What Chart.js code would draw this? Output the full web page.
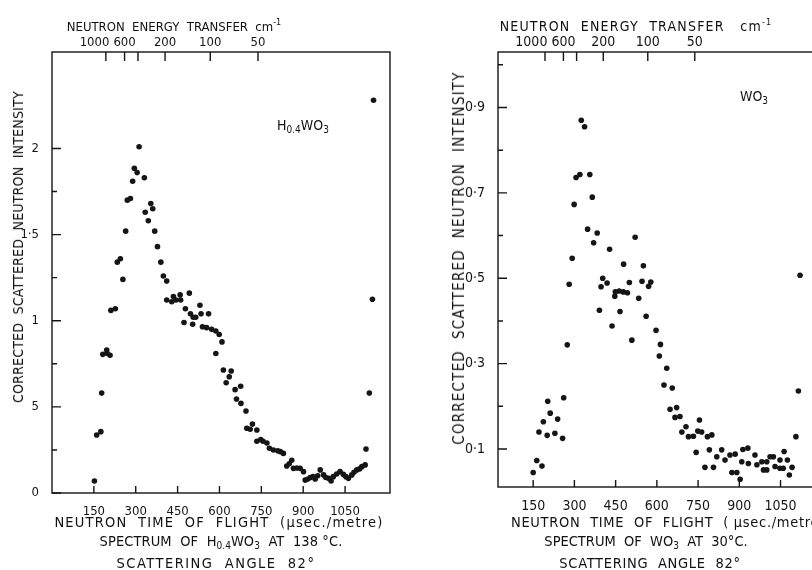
<!DOCTYPE html>
<html>
<head>
<meta charset="utf-8">
<script src="https://cdn.jsdelivr.net/npm/chart.js@4"></script>
<style>
body { margin:0; width:812px; height:570px; overflow:hidden; background:#fff; position:relative;
  font-family:'DejaVu Sans Condensed','Liberation Sans Narrow',sans-serif; color:#111; }
canvas { position:absolute; top:0; }
#left { left:0; }
#right { left:420px; }
.txt { position:absolute; white-space:nowrap; font-size:13px; transform:translate(-50%,-50%); }
.cap { font-size:14.5px; letter-spacing:0.7px; }
.ytitle { transform:translate(-50%,-50%) rotate(-90deg); font-size:14px; letter-spacing:0.2px; }
.wide { letter-spacing:1.2px; }
sub { font-size:10px; vertical-align:-3px; letter-spacing:0; }
sup { font-size:9px; vertical-align:6px; }
</style>
</head>
<body>
<canvas id="left" width="400" height="570"></canvas>
<canvas id="right" width="420" height="570"></canvas>

<div class="txt" style="left:174px;top:25px">NEUTRON&nbsp; ENERGY&nbsp; TRANSFER&nbsp; cm<sup>-1</sup></div>
<div class="txt ytitle" style="left:18px;top:247px">CORRECTED&nbsp; SCATTERED&nbsp; NEUTRON&nbsp; INTENSITY</div>
<div class="txt" style="left:303px;top:126px;font-size:14px">H<sub>0.4</sub>WO<sub>3</sub></div>
<div class="txt cap" style="left:219px;top:522px;letter-spacing:1.2px">NEUTRON&nbsp; TIME&nbsp; OF&nbsp; FLIGHT&nbsp; (µsec./metre)</div>
<div class="txt cap" style="left:221px;top:542px;letter-spacing:0.1px">SPECTRUM&nbsp; OF&nbsp; H<sub>0.4</sub>WO<sub>3</sub>&nbsp; AT&nbsp; 138 °C.</div>
<div class="txt cap" style="left:216px;top:563px;letter-spacing:1.5px">SCATTERING&nbsp; ANGLE&nbsp; 82°</div>

<div class="txt wide" style="left:636px;top:25px;font-size:14px">NEUTRON&nbsp; ENERGY&nbsp; TRANSFER&nbsp;&nbsp; cm<sup>-1</sup></div>
<div class="txt ytitle" style="left:459px;top:258px;font-size:15px;letter-spacing:1.2px">CORRECTED&nbsp; SCATTERED&nbsp; NEUTRON&nbsp; INTENSITY</div>
<div class="txt" style="left:754px;top:97px;font-size:14px">WO<sub>3</sub></div>
<div class="txt cap" style="left:668px;top:522px">NEUTRON&nbsp; TIME&nbsp; OF&nbsp; FLIGHT&nbsp; ( µsec./metre)</div>
<div class="txt cap" style="left:646px;top:542px;letter-spacing:0">SPECTRUM&nbsp; OF&nbsp; WO<sub>3</sub>&nbsp; AT&nbsp; 30°C.</div>
<div class="txt cap" style="left:650px;top:563px">SCATTERING&nbsp; ANGLE&nbsp; 82°</div>

<script>
// time of flight ticks (usec/metre) and the energy transfer scale on top
const tofTicks = [150, 300, 450, 600, 750, 900, 1050];
const energyLabels = ['1000', '600', '', '200', '100', '50'];
const energyTof = [193, 260, 308, 405, 567, 738];

// H0.4WO3 at 138 C
const leftTof = [152, 160, 175, 178, 182, 196, 198, 208, 211, 227, 234, 245, 254, 264, 270, 281, 289, 295, 305, 312,
  331, 334, 345, 354, 361, 368, 378, 390, 399, 411, 411, 429, 435, 444, 459, 461, 473, 478, 492, 496,
  504, 506, 515, 530, 534, 539, 554, 561, 572, 587, 587, 599, 609, 614, 624, 635, 642, 656, 661, 676,
  677, 695, 698, 710, 718, 734, 734, 748, 756, 770, 779, 793, 809, 818, 829, 841, 850, 859, 865, 877,
  889, 901, 907, 915, 925, 935, 943, 952, 961, 973, 981, 991, 1000, 1008, 1020, 1032, 1044, 1053, 1062, 1074,
  1082, 1092, 1102, 1110, 1122, 1125, 1137, 1148, 1152];
const leftVal = [0.07, 0.337, 0.356, 0.58, 0.805, 0.83, 0.81, 0.80, 1.06, 1.07, 1.34, 1.36, 1.24, 1.52, 1.70, 1.71, 1.81, 1.885, 1.86, 2.01,
  1.83, 1.63, 1.58, 1.68, 1.65, 1.52, 1.43, 1.34, 1.26, 1.23, 1.12, 1.11, 1.14, 1.12, 1.15, 1.12, 0.99, 1.07, 1.16, 1.04,
  0.98, 1.02, 1.02, 1.09, 1.04, 0.965, 0.96, 1.04, 0.95, 0.94, 0.81, 0.92, 0.877, 0.714, 0.64, 0.675, 0.708, 0.60, 0.546, 0.62,
  0.52, 0.476, 0.376, 0.37, 0.40, 0.366, 0.30, 0.31, 0.30, 0.29, 0.26, 0.25, 0.245, 0.24, 0.23, 0.157, 0.17, 0.19, 0.143, 0.145,
  0.143, 0.124, 0.075, 0.08, 0.089, 0.095, 0.081, 0.10, 0.134, 0.105, 0.09, 0.085, 0.07, 0.095, 0.11, 0.124, 0.108, 0.095, 0.085, 0.105,
  0.12, 0.134, 0.14, 0.153, 0.163, 0.255, 0.58, 1.125, 2.28];
const leftYTicks = [0, 0.5, 1, 1.5, 2];
const leftYLabels = ['0', '5', '1', '1·5', '2'];
const leftYMinor = [0.25, 0.75, 1.25, 1.75];

// WO3 at 30 C
const rightTof = [150, 163, 171, 182, 187, 201, 203, 212, 229, 239, 257, 261, 274, 281, 292, 299, 306, 320, 325, 337,
  348, 356, 365, 370, 383, 391, 397, 403, 419, 428, 437, 447, 449, 463, 466, 478, 479, 493, 500, 509,
  521, 534, 546, 551, 561, 570, 578, 597, 609, 613, 626, 636, 648, 656, 666, 672, 684, 691, 706, 715,
  733, 743, 749, 755, 763, 775, 784, 791, 800, 806, 818, 836, 848, 866, 873, 885, 891, 903, 909, 913,
  931, 933, 957, 964, 982, 988, 1000, 1000, 1012, 1024, 1030, 1048, 1048, 1060, 1063, 1075, 1082, 1092, 1106, 1115,
  1121];
const rightVal = [0.045, 0.073, 0.140, 0.060, 0.164, 0.132, 0.212, 0.184, 0.137, 0.170, 0.125, 0.220, 0.344, 0.486, 0.547, 0.673, 0.736, 0.743, 0.870, 0.855,
  0.615, 0.743, 0.690, 0.583, 0.606, 0.425, 0.480, 0.500, 0.489, 0.568, 0.388, 0.458, 0.468, 0.470, 0.422, 0.468, 0.533, 0.466, 0.490, 0.355,
  0.596, 0.453, 0.493, 0.529, 0.411, 0.481, 0.491, 0.378, 0.318, 0.345, 0.250, 0.289, 0.193, 0.243, 0.174, 0.197, 0.176, 0.140, 0.152, 0.129,
  0.130, 0.092, 0.142, 0.168, 0.140, 0.057, 0.129, 0.098, 0.133, 0.057, 0.082, 0.098, 0.074, 0.086, 0.045, 0.088, 0.045, 0.029, 0.070, 0.099,
  0.102, 0.066, 0.086, 0.063, 0.070, 0.051, 0.051, 0.070, 0.082, 0.082, 0.059, 0.055, 0.074, 0.055, 0.094, 0.074, 0.039, 0.057, 0.129, 0.236,
  0.507];
const rightYTicks = [0.1, 0.3, 0.5, 0.7, 0.9];
const rightYLabels = ['0·1', '0·3', '0·5', '0·7', '0·9'];
const rightYMinor = [0.2, 0.4, 0.6, 0.8, 1.0];

const ink = '#151515';
const font = { family: "'DejaVu Sans Condensed','Liberation Sans Narrow',sans-serif", size: 13 };

// frame, inward ticks and top energy labels
const framePlugin = {
  id: 'frame',
  afterDraw(chart, args, o) {
    const ctx = chart.ctx;
    const a = chart.chartArea;
    const x = chart.scales.x, y = chart.scales.y;
    ctx.save();
    ctx.strokeStyle = ink;
    ctx.lineWidth = 1.4;
    ctx.strokeRect(a.left, a.top, a.right - a.left, a.bottom - a.top);
    ctx.beginPath();
    tofTicks.forEach(t => {
      const px = x.getPixelForValue(t);
      ctx.moveTo(px, a.bottom); ctx.lineTo(px, a.bottom - 7);
    });
    energyTof.forEach(t => {
      const px = x.getPixelForValue(t);
      ctx.moveTo(px, a.top); ctx.lineTo(px, a.top + 9);
    });
    o.major.forEach(v => {
      const py = y.getPixelForValue(v);
      ctx.moveTo(a.left, py); ctx.lineTo(a.left + 9, py);
    });
    o.minor.forEach(v => {
      const py = y.getPixelForValue(v);
      ctx.moveTo(a.left, py); ctx.lineTo(a.left + 5, py);
    });
    ctx.stroke();

    // energy labels, pushed apart when they collide
    ctx.font = o.topSize + 'px ' + font.family;
    ctx.fillStyle = ink;
    ctx.textBaseline = 'bottom';
    ctx.textAlign = 'center';
    const pos = energyTof.map(t => x.getPixelForValue(t));
    const w = energyLabels.map(s => ctx.measureText(s).width);
    for (let i = pos.length - 2; i >= 0; i--) {
      if (!energyLabels[i] || !energyLabels[i + 1]) continue;
      const gap = (pos[i + 1] - w[i + 1] / 2) - (pos[i] + w[i] / 2) - 4;
      if (gap < 0) pos[i] += gap;
    }
    energyLabels.forEach((s, i) => ctx.fillText(s, pos[i], a.top - 3));
    ctx.restore();
  }
};

function makeChart(id, tof, val, cfg) {
  const yTicks = cfg.yTicks, yLabels = cfg.yLabels;
  const tickFont = { family: font.family, size: cfg.tickSize };
  new Chart(document.getElementById(id), {
    type: 'scatter',
    data: {
      datasets: [{
        data: tof.map((t, i) => ({ x: t, y: val[i] })),
        pointRadius: 2.8,
        pointBackgroundColor: ink,
        pointBorderWidth: 0,
        showLine: false
      }]
    },
    options: {
      responsive: false,
      animation: false,
      layout: { padding: { right: cfg.padRight, left: 0, top: 0, bottom: 0 } },
      plugins: {
        legend: { display: false },
        tooltip: { enabled: false },
        frame: { major: yTicks, minor: cfg.yMinor, topSize: cfg.tickSize }
      },
      scales: {
        x: {
          type: 'linear', position: 'bottom', min: cfg.xMin, max: cfg.xMax,
          grid: { display: false }, border: { display: false },
          afterBuildTicks: s => { s.ticks = tofTicks.map(v => ({ value: v })); },
          afterFit: s => { s.height = cfg.bottomH; },
          ticks: { color: ink, font: tickFont, padding: 3, maxRotation: 0, autoSkip: false, callback: v => String(v) }
        },
        x2: {
          type: 'linear', position: 'top', min: cfg.xMin, max: cfg.xMax,
          grid: { display: false }, border: { display: false },
          ticks: { display: false },
          afterFit: s => { s.height = 52; }
        },
        y: {
          type: 'linear', min: cfg.yMin, max: cfg.yMax,
          grid: { display: false }, border: { display: false },
          afterBuildTicks: s => { s.ticks = yTicks.map(v => ({ value: v })); },
          afterFit: s => { s.width = cfg.leftW; },
          ticks: { color: ink, font: tickFont, padding: 5, autoSkip: false,
            callback: (v, i) => yLabels[i] }
        }
      }
    },
    plugins: [framePlugin]
  });
}

makeChart('left', leftTof, leftVal, {
  xMin: 0, xMax: 1211, yMin: 0, yMax: 2.56,
  yTicks: leftYTicks, yLabels: leftYLabels, yMinor: leftYMinor,
  leftW: 52, padRight: 10, bottomH: 77, tickSize: 13
});

makeChart('right', rightTof, rightVal, {
  xMin: 22, xMax: 1230, yMin: 0.011, yMax: 1.03,
  yTicks: rightYTicks, yLabels: rightYLabels, yMinor: rightYMinor,
  leftW: 78, padRight: 10, bottomH: 83, tickSize: 14
});
</script>
</body>
</html>
